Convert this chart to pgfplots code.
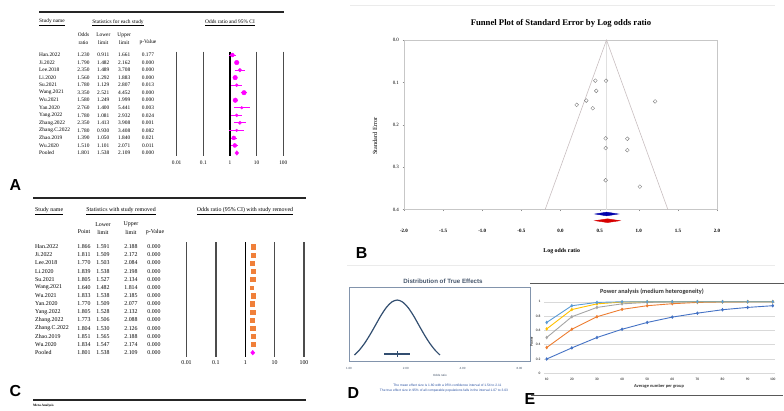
\documentclass[border=0pt]{standalone}
\usepackage{fontspec}
\setmainfont{Liberation Serif}
\newfontfamily\arial{Liberation Sans}
\newfontfamily\calib{Carlito}
\usepackage{pgfplots}
\pgfplotsset{compat=1.18}
\usepackage{pgfplotstable}
\definecolor{mag}{RGB}{255,0,255}
\definecolor{org}{RGB}{240,128,58}
\definecolor{dblue}{RGB}{50,78,112}
\definecolor{dbox}{RGB}{130,148,172}
\definecolor{dtitle}{RGB}{68,84,106}
\definecolor{dfoot}{RGB}{40,80,160}
\definecolor{eblue}{RGB}{68,114,196}
\definecolor{eorange}{RGB}{237,125,49}
\definecolor{egray}{RGB}{165,165,165}
\definecolor{eyellow}{RGB}{255,192,0}
\definecolor{elblue}{RGB}{91,155,213}
\definecolor{funnel}{RGB}{200,190,192}
\newcommand{\fs}[1]{\fontsize{#1}{#1}\selectfont}

% Panel A: odds ratios with 95% CI (row, OR, lower, upper, marker radius)
\pgfplotstableread{
row or lo hi r
0 1.230 0.911 1.661 2.0
1 1.790 1.482 2.162 2.3
2 2.350 1.489 3.708 1.8
3 1.560 1.292 1.883 2.3
4 1.780 1.129 2.807 1.5
5 3.350 2.521 4.452 2.3
6 1.580 1.249 1.999 2.3
7 2.760 1.400 5.441 1.3
8 1.780 1.081 2.932 1.5
9 2.350 1.413 3.908 1.7
10 1.780 0.930 3.408 1.3
11 1.390 1.050 1.840 2.0
12 1.510 1.101 2.071 2.0
}\tabA

% Panel C: leave-one-out
\pgfplotstableread{
row or lo hi r
0 1.866 1.591 2.188 2.1
1 1.811 1.509 2.172 2.1
2 1.770 1.503 2.084 2.1
3 1.839 1.538 2.198 2.1
4 1.805 1.527 2.134 2.1
5 1.640 1.482 1.814 1.7
6 1.833 1.538 2.185 2.1
7 1.770 1.509 2.077 2.1
8 1.805 1.528 2.132 2.1
9 1.773 1.506 2.088 2.1
10 1.804 1.530 2.126 2.1
11 1.851 1.565 2.188 2.1
12 1.834 1.547 2.174 2.1
}\tabC

\begin{document}
\begin{tikzpicture}
\useasboundingbox (0,0) rectangle (784bp,-411bp);

%================ PANEL A =================
\draw[black!85, line width=1.1bp] (39bp,-12bp) -- (284bp,-12bp);
\begin{scope}[font=\fs{5.4}, every node/.style={inner sep=0pt}]
\node[anchor=west] at (39bp,-22.7bp) {\underline{Study name}};
\node at (118bp,-22.7bp) {\underline{Statistics for each study}};
\node at (230bp,-22.7bp) {\underline{Odds ratio and 95\% CI}};
\node at (83.5bp,-35bp) {Odds}; \node at (83.5bp,-42.3bp) {ratio};
\node at (103.3bp,-35bp) {Lower}; \node at (103.3bp,-42.3bp) {limit};
\node at (124.2bp,-35bp) {Upper}; \node at (124.2bp,-42.3bp) {limit};
\node at (148bp,-42.3bp) {p-Value};
\foreach \n/\a/\b/\c/\d [count=\i from 0] in {Han.2022/1.230/0.911/1.661/0.177, Ji.2022/1.790/1.482/2.162/0.000, Lee.2018/2.350/1.489/3.708/0.000, Li.2020/1.560/1.292/1.883/0.000, Su.2021/1.780/1.129/2.807/0.013, Wang.2021/3.350/2.521/4.452/0.000, Wu.2021/1.580/1.249/1.999/0.000, Yan.2020/2.760/1.400/5.441/0.003, Yang.2022/1.780/1.081/2.932/0.024, Zhang.2022/2.350/1.413/3.908/0.001, Zhang.C.2022/1.780/0.930/3.408/0.082, Zhao.2019/1.390/1.050/1.840/0.021, Wu.2020/1.510/1.101/2.071/0.011, Pooled/1.801/1.538/2.109/0.000}{
  \pgfmathsetmacro\yy{55+7.54*\i}
  \node[anchor=west] at (39bp,-\yy bp) {\n};
  \node at (83.5bp,-\yy bp) {\a};
  \node at (103.3bp,-\yy bp) {\b};
  \node at (124.2bp,-\yy bp) {\c};
  \node at (148bp,-\yy bp) {\d};
}
\end{scope}

\begin{axis}[scale only axis, width=106.6bp, height=104.3bp,
  at={(176.7bp,-51.7bp)}, anchor=north west,
  xmode=log, xmin=0.01, xmax=100, ymin=-0.44, ymax=13.4, y dir=reverse,
  hide axis, clip=false]
\addplot[black!70, line width=1.3bp] coordinates {(0.01,-0.44) (0.01,13.4)};
\addplot[black!70, line width=1.3bp] coordinates {(0.1,-0.44) (0.1,13.4)};
\addplot[black, line width=1.3bp] coordinates {(1,-0.44) (1,13.4)};
\addplot[black!70, line width=1.3bp] coordinates {(10,-0.44) (10,13.4)};
\addplot[black!70, line width=1.3bp] coordinates {(100,-0.44) (100,13.4)};
\addplot[mag, line width=0.8bp, unbounded coords=jump] coordinates {
(0.911,0) (1.661,0) (nan,nan) (1.482,1) (2.162,1) (nan,nan)
(1.489,2) (3.708,2) (nan,nan) (1.292,3) (1.883,3) (nan,nan)
(1.129,4) (2.807,4) (nan,nan) (2.521,5) (4.452,5) (nan,nan)
(1.249,6) (1.999,6) (nan,nan) (1.400,7) (5.441,7) (nan,nan)
(1.081,8) (2.932,8) (nan,nan) (1.413,9) (3.908,9) (nan,nan)
(0.930,10) (3.408,10) (nan,nan) (1.050,11) (1.840,11) (nan,nan)
(1.101,12) (2.071,12)};
\addplot[only marks, mark=*, color=mag,
  visualization depends on={\thisrow{r}\as\rr},
  scatter, scatter/use mapped color={draw=mag,fill=mag},
  scatter/@pre marker code/.append style={/tikz/mark size=\rr}]
  table[x=or, y=row] {\tabA};
\addplot[fill=mag, draw=mag] coordinates {(1.538,13) (1.801,12.7) (2.109,13) (1.801,13.3)} -- cycle;
\node[font=\fs{5.4}] at (axis cs:0.01,14.23) {0.01};
\node[font=\fs{5.4}] at (axis cs:0.1,14.23) {0.1};
\node[font=\fs{5.4}] at (axis cs:1,14.23) {1};
\node[font=\fs{5.4}] at (axis cs:10,14.23) {10};
\node[font=\fs{5.4}] at (axis cs:100,14.23) {100};
\end{axis}

%================ PANEL C =================
\draw[black!85, line width=1.1bp] (33bp,-198bp) -- (306bp,-198bp);
\begin{scope}[font=\fs{5.9}, every node/.style={inner sep=0pt}]
\node[anchor=west] at (35bp,-211bp) {\underline{Study name}};
\node at (121bp,-211bp) {\underline{Statistics with study removed}};
\node at (245bp,-211bp) {\underline{Odds ratio (95\% CI) with study removed}};
\node at (84bp,-232bp) {Point};
\node at (103bp,-224.3bp) {Lower}; \node at (103bp,-232bp) {limit};
\node at (131bp,-224.3bp) {Upper}; \node at (131bp,-232bp) {limit};
\node at (155bp,-232bp) {p-Value};
\foreach \n/\a/\b/\c/\d [count=\i from 0] in {Han.2022/1.866/1.591/2.188/0.000, Ji.2022/1.811/1.509/2.172/0.000, Lee.2018/1.770/1.503/2.084/0.000, Li.2020/1.839/1.538/2.198/0.000, Su.2021/1.805/1.527/2.134/0.000, Wang.2021/1.640/1.482/1.814/0.000, Wu.2021/1.833/1.538/2.185/0.000, Yan.2020/1.770/1.509/2.077/0.000, Yang.2022/1.805/1.528/2.132/0.000, Zhang.2022/1.773/1.506/2.088/0.000, Zhang.C.2022/1.804/1.530/2.126/0.000, Zhao.2019/1.851/1.565/2.188/0.000, Wu.2020/1.834/1.547/2.174/0.000, Pooled/1.801/1.538/2.109/0.000}{
  \pgfmathsetmacro\yy{246.7+8.15*\i}
  \node[anchor=west] at (35bp,-\yy bp) {\n};
  \node at (84bp,-\yy bp) {\a};
  \node at (103bp,-\yy bp) {\b};
  \node at (131bp,-\yy bp) {\c};
  \node at (154bp,-\yy bp) {\d};
}
\end{scope}

\begin{axis}[scale only axis, width=117.5bp, height=115bp,
  at={(186.5bp,-242bp)}, anchor=north west,
  xmode=log, xmin=0.01, xmax=100, ymin=-0.58, ymax=13.53, y dir=reverse,
  hide axis, clip=false]
\addplot[black!70, line width=1.3bp] coordinates {(0.01,-0.58) (0.01,13.53)};
\addplot[black!70, line width=1.3bp] coordinates {(0.1,-0.58) (0.1,13.53)};
\addplot[black, line width=1.3bp] coordinates {(1,-0.58) (1,13.53)};
\addplot[black!70, line width=1.3bp] coordinates {(10,-0.58) (10,13.53)};
\addplot[black!70, line width=1.3bp] coordinates {(100,-0.58) (100,13.53)};
\addplot[only marks, mark=square*, color=org,
  visualization depends on={\thisrow{r}\as\rr},
  scatter, scatter/use mapped color={draw=org,fill=org},
  scatter/@pre marker code/.append style={/tikz/mark size=\rr}]
  table[x=or, y=row] {\tabC};
\addplot[fill=mag, draw=mag] coordinates {(1.538,13) (1.801,12.72) (2.109,13) (1.801,13.28)} -- cycle;
\node[font=\fs{5.9}] at (axis cs:0.01,14.27) {0.01};
\node[font=\fs{5.9}] at (axis cs:0.1,14.27) {0.1};
\node[font=\fs{5.9}] at (axis cs:1,14.27) {1};
\node[font=\fs{5.9}] at (axis cs:10,14.27) {10};
\node[font=\fs{5.9}] at (axis cs:100,14.27) {100};
\end{axis}

\draw[black!85, line width=1.1bp] (33bp,-400bp) -- (306bp,-400bp);
\node[anchor=west, inner sep=0pt, font=\fs{3.4}\bfseries] at (33bp,-406bp) {Meta Analysis};

%================ PANEL B =================
\draw[black!8, line width=0.8bp] (350bp,-5bp) -- (775bp,-5bp);
\draw[black!8, line width=0.8bp] (347bp,-265bp) -- (775bp,-265bp);
\node[font=\fs{8.7}\bfseries] at (561bp,-23.3bp) {Funnel Plot of Standard Error by Log odds ratio};
\node[rotate=90, font=\fs{6.3}] at (375bp,-136bp) {Standard Error};
\node[font=\fs{5.9}\bfseries] at (561.7bp,-251bp) {Log odds ratio};

\begin{axis}[scale only axis, width=313bp, height=169.5bp,
  at={(404bp,-40bp)}, anchor=north west,
  xmin=-2, xmax=2, ymin=0, ymax=0.4, y dir=reverse, clip=false,
  axis line style={black!22}, tick style={black!45}, tick align=outside,
  major tick length=1.5bp, xtick pos=lower, ytick pos=left,
  xtick={-2,-1.5,-1,-0.5,0,0.5,1,1.5,2},
  xticklabels={-2.0,-1.5,-1.0,-0.5,0.0,0.5,1.0,1.5,2.0},
  ytick={0,0.1,0.2,0.3,0.4}, yticklabels={0.0,0.1,0.2,0.3,0.4},
  xticklabel style={font=\fs{5}\bfseries, yshift=-14.5bp},
  yticklabel style={font=\fs{5}}]
\addplot[black!12, line width=0.4bp] coordinates {(0.588,0) (0.588,0.4)};
\addplot[funnel, line width=0.6bp] coordinates {(-0.196,0.4) (0.588,0) (1.372,0.4)};
\addplot[only marks, mark=o, mark size=1.9bp, black!50, line width=0.4bp] coordinates {
(0.207,0.153) (0.582,0.096) (0.854,0.233) (0.445,0.096) (0.577,0.232)
(1.209,0.145) (0.457,0.120) (1.015,0.346) (0.577,0.255) (0.854,0.260)
(0.577,0.331) (0.329,0.143) (0.412,0.161)};
\addplot[fill={rgb,255:red,0;green,0;blue,170}, draw={rgb,255:red,0;green,0;blue,170}] coordinates {(0.441,0.4106) (0.590,0.4062) (0.739,0.4106) (0.590,0.4150)} -- cycle;
\addplot[fill={rgb,255:red,215;green,0;blue,0}, draw={rgb,255:red,215;green,0;blue,0}] coordinates {(0.440,0.4264) (0.600,0.4220) (0.760,0.4264) (0.600,0.4308)} -- cycle;
\end{axis}

%================ PANEL D =================
\node[font=\arial\bfseries\fs{6.2}, text=dtitle] at (443bp,-281bp) {Distribution of True Effects};
\begin{axis}[scale only axis, width=181bp, height=74bp,
  at={(349bp,-287bp)}, anchor=north west,
  xmode=log, log basis x=2, xmin=1, xmax=9.1, ymin=0, ymax=1,
  axis line style={dbox, line width=0.6bp}, ytick=\empty,
  xtick={1,2,4,8}, xticklabels={1.00,2.00,4.00,8.00}, major tick length=0,
  xticklabel style={font=\arial\fs{3}, text=dtitle, yshift=-3bp}, clip=false]
\addplot[dblue, line width=1.2bp, smooth] coordinates {
(1.068,0.081) (1.130,0.142) (1.207,0.236) (1.290,0.352) (1.379,0.481)
(1.474,0.611) (1.576,0.722) (1.684,0.797) (1.800,0.824) (1.924,0.797)
(2.057,0.722) (2.198,0.611) (2.349,0.481) (2.511,0.352) (2.684,0.236)
(2.869,0.142) (3.034,0.081)};
\addplot[dblue, line width=1.1bp] coordinates {(1.54,0.095) (2.11,0.095)};
\addplot[dblue, line width=0.6bp] coordinates {(1.80,0.06) (1.80,0.13)};
\end{axis}
\node[font=\arial\fs{3}, text=dtitle] at (440bp,-375bp) {Odds ratio};
\node[font=\arial\fs{3.3}, text=dfoot] at (447.5bp,-385.7bp) {The mean effect size is 1.80 with a 95\% confidence interval of 1.54 to 2.11};
\node[font=\arial\fs{3.3}, text=dfoot] at (444bp,-391bp) {The true effect size in 95\% of all comparable populations falls in the interval 1.07 to 3.03};

%================ PANEL E =================
\draw[black!65, line width=0.7bp] (530bp,-283bp) -- (784bp,-283bp);
\draw[black!65, line width=0.7bp] (531bp,-395bp) -- (783bp,-395bp);
\node[font=\calib\bfseries\fs{6.3}, text=black!80] at (652bp,-292bp) {Power analysis (medium heterogeneity)};
\begin{axis}[scale only axis, width=231bp, height=71.6bp,
  at={(544bp,-301.7bp)}, anchor=north west,
  xmin=8.92, xmax=100.9, ymin=0, ymax=1,
  axis line style={draw=none}, tick style={draw=none},
  ymajorgrids, grid style={black!15, line width=0.4bp},
  xtick={10,20,30,40,50,60,70,80,90,100},
  xticklabels={10,20,30,40,50,60,70,80,90,100},
  ytick={0,0.2,0.4,0.6,0.8,1}, yticklabels={0,0.2,0.4,0.6,0.8,1},
  ticklabel style={font=\calib\bfseries\fs{3.6}, text=black!70},
  xticklabel style={yshift=-1.5bp}, clip=false]
\addplot[eblue, line width=0.9bp, mark=diamond*, mark size=1.1bp] coordinates {
(10,0.20) (20,0.355) (30,0.50) (40,0.615) (50,0.71) (60,0.785) (70,0.84) (80,0.888) (90,0.92) (100,0.944)};
\addplot[eorange, line width=0.9bp, mark=diamond*, mark size=1.1bp] coordinates {
(10,0.36) (20,0.615) (30,0.79) (40,0.893) (50,0.944) (60,0.972) (70,0.99) (80,0.997) (90,0.999) (100,1.0)};
\addplot[egray, line width=0.9bp, mark=diamond*, mark size=1.1bp] coordinates {
(10,0.50) (20,0.79) (30,0.92) (40,0.97) (50,0.99) (60,0.997) (70,1) (80,1) (90,1) (100,1)};
\addplot[eyellow, line width=0.9bp, mark=diamond*, mark size=1.1bp] coordinates {
(10,0.62) (20,0.89) (30,0.97) (40,0.995) (50,1) (60,1) (70,1) (80,1) (90,1) (100,1)};
\addplot[elblue, line width=0.9bp, mark=diamond*, mark size=1.1bp] coordinates {
(10,0.71) (20,0.944) (30,0.99) (40,0.999) (50,1) (60,1) (70,1) (80,1) (90,1) (100,1)};
\end{axis}
\node[font=\calib\bfseries\fs{4.5}, text=black!80] at (659bp,-386bp) {Average number per group};
\node[rotate=90, font=\calib\bfseries\fs{3.8}, text=black!75] at (531.7bp,-341.7bp) {Power};

%================ PANEL LETTERS =================
\node[font=\arial\bfseries\fs{16}] at (15.3bp,-185bp) {A};
\node[font=\arial\bfseries\fs{16}] at (361.7bp,-253bp) {B};
\node[font=\arial\bfseries\fs{16}] at (15.3bp,-391bp) {C};
\node[font=\arial\bfseries\fs{16}] at (353.3bp,-393bp) {D};
\node[font=\arial\bfseries\fs{16}] at (530bp,-399bp) {E};
\end{tikzpicture}
\end{document}
